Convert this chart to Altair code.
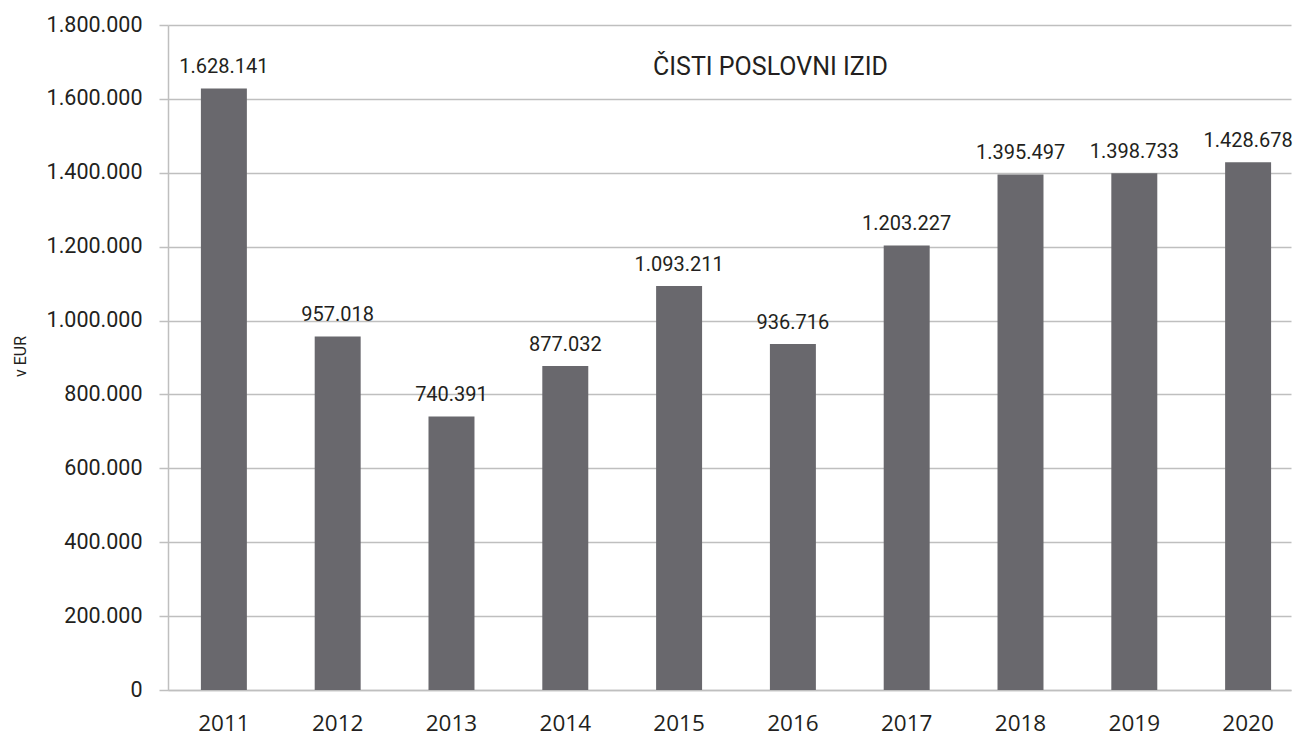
import altair as alt
import pandas as pd

years = ["2011", "2012", "2013", "2014", "2015", "2016", "2017", "2018", "2019", "2020"]
values = [1628141, 957018, 740391, 877032, 1093211, 936716, 1203227, 1395497, 1398733, 1428678]
y_ticks = [0, 200000, 400000, 600000, 800000, 1000000, 1200000, 1400000, 1600000, 1800000]

df = pd.DataFrame({"year": years, "value": values})
df["label"] = [f"{v:,}".replace(",", ".") for v in values]

FONT = "Roboto"
XFONT = "Open Sans"
TXT = "#231f20"
GRID = "#bfbfbf"

base = alt.Chart(df)

x_enc = alt.X("year:N", title=None, sort=years,
              scale=alt.Scale(paddingInner=0.596, paddingOuter=0.232, align=0.623),
              axis=alt.Axis(labelAngle=0, labelFontSize=22.5, labelPadding=22,
                            ticks=False, domainColor=GRID, domainWidth=1.5,
                            labelColor=TXT, labelFont=XFONT))

bars = base.mark_bar(color="#69686d").encode(
    x=x_enc,
    y=alt.Y("value:Q", title="v EUR",
            scale=alt.Scale(domain=[0, 1800000], nice=False),
            axis=alt.Axis(values=y_ticks, labelFontSize=21.5, labelFont=FONT,
                          labelColor=TXT, labelPadding=17, tickSize=9,
                          tickColor=GRID, tickWidth=1.5,
                          gridColor=GRID, gridWidth=1.5,
                          domainColor=GRID, domainWidth=1.5,
                          labelExpr="replace(replace(format(datum.value, ','), ',', '.'), ',', '.')",
                          titleFont=FONT, titleFontSize=16, titleFontWeight="normal",
                          titleColor=TXT, titleX=-148, titleY=331,
                          titleAngle=270, titleBaseline="middle", titleAlign="center")),
)

labels = base.mark_text(baseline="alphabetic", dy=-15, fontSize=20, font=FONT, color=TXT).encode(
    x=alt.X("year:N", sort=years),
    y=alt.Y("value:Q"),
    text="label:N",
)

chart = alt.layer(bars, labels).properties(
    width=1123, height=665,
    title=alt.TitleParams("ČISTI POSLOVNI IZID", font=FONT, fontSize=25,
                          fontWeight="normal", color=TXT, anchor="middle",
                          dx=41, dy=66, offset=0),
    autosize=alt.AutoSizeParams(type="none"),
    padding={"left": 160, "top": 17, "right": 3, "bottom": 48},
).configure_view(stroke=None)

chart.save("out.html", embed_options={"renderer": "svg", "actions": False})
